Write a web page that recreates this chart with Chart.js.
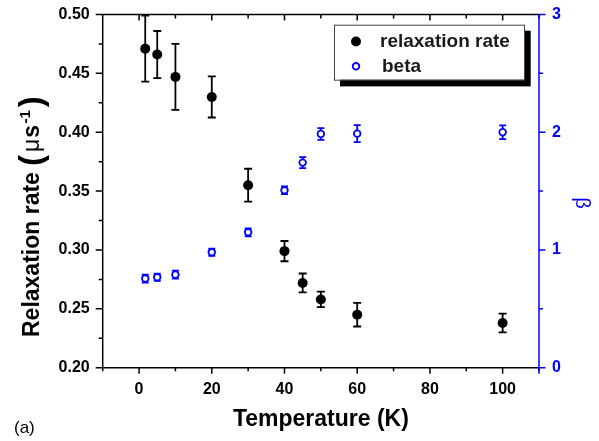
<!DOCTYPE html>
<html><head><meta charset="utf-8">
<script src="https://cdn.jsdelivr.net/npm/chart.js@4.4.1/dist/chart.umd.min.js"></script>
<style>html,body{margin:0;padding:0;background:#fff}#wrap{width:599px;height:441px;position:relative}</style>
</head><body><div id="wrap"><canvas id="c" width="599" height="441"></canvas></div>
<script>
// ---- data ----
const temperatures = [1.7, 5, 10, 20, 30, 40, 45, 50, 60, 100];
const relaxationRate = [0.471, 0.466, 0.447, 0.430, 0.355, 0.299, 0.272, 0.258, 0.245, 0.238];
const relaxationRateErr = [0.028, 0.020, 0.028, 0.0175, 0.014, 0.0086, 0.008, 0.0066, 0.010, 0.008];
const betaValues = [0.757, 0.768, 0.790, 0.980, 1.150, 1.507, 1.742, 1.985, 1.988, 2.000];
const betaErr = [0.034, 0.030, 0.034, 0.031, 0.034, 0.033, 0.047, 0.050, 0.072, 0.058];
const seriesLabels = ['relaxation rate', 'beta'];
const xTickValues = [0, 20, 40, 60, 80, 100];
const xMinorTicks = [-10, 10, 30, 50, 70, 90, 110];
const leftTickValues = [0.20, 0.25, 0.30, 0.35, 0.40, 0.45, 0.50];
const leftMinorTicks = [0.225, 0.275, 0.325, 0.375, 0.425, 0.475];
const rightTickValues = [0, 1, 2, 3];
const rightMinorTicks = [0.5, 1.5, 2.5];
const xTitle = 'Temperature (K)';
const yTitleParts = ['Relaxation rate', '(', 'μ', 's', '-1', ')'];
const y1Title = 'β';
const panelLabel = '(a)';

const BLUE = '#0000ff';
const FAM = "'Liberation Sans', Arial, Helvetica, sans-serif";
Chart.defaults.font.family = FAM;
Chart.defaults.color = '#000';

const errors = [relaxationRateErr, betaErr];

const axesPlugin = {
  id: 'axesPlugin',
  beforeDatasetsDraw(chart) {
    const {ctx, scales} = chart;
    ctx.save();
    chart.data.datasets.forEach((ds, di) => {
      const ys = scales[ds.yAxisID];
      const err = errors[di];
      const cap = di === 0 ? 4 : 3.5;
      ctx.strokeStyle = ds.borderColor;
      ctx.lineWidth = 1.8;
      ds.data.forEach((p, i) => {
        const x = scales.x.getPixelForValue(p.x);
        const y1 = ys.getPixelForValue(p.y + err[i]);
        const y2 = ys.getPixelForValue(p.y - err[i]);
        ctx.beginPath();
        ctx.moveTo(x, y1); ctx.lineTo(x, y2);
        ctx.moveTo(x - cap, y1); ctx.lineTo(x + cap, y1);
        ctx.moveTo(x - cap, y2); ctx.lineTo(x + cap, y2);
        ctx.stroke();
      });
    });
    ctx.restore();
  },
  afterDraw(chart) {
    const {ctx, chartArea: a, scales} = chart;
    ctx.save();
    ctx.lineWidth = 1.5;
    ctx.strokeStyle = '#000';
    ctx.beginPath();
    ctx.moveTo(a.left, a.top); ctx.lineTo(a.left, a.bottom);
    ctx.moveTo(a.left, a.bottom); ctx.lineTo(a.right, a.bottom);
    ctx.moveTo(a.left, a.top); ctx.lineTo(a.right, a.top);
    leftTickValues.forEach(v => { const y = scales.y.getPixelForValue(v); ctx.moveTo(a.left - 7, y); ctx.lineTo(a.left, y); });
    leftMinorTicks.forEach(v => { const y = scales.y.getPixelForValue(v); ctx.moveTo(a.left - 4, y); ctx.lineTo(a.left, y); });
    xTickValues.forEach(v => { const x = scales.x.getPixelForValue(v);
      ctx.moveTo(x, a.bottom); ctx.lineTo(x, a.bottom + 6);
      ctx.moveTo(x, a.top); ctx.lineTo(x, a.top + 6); });
    xMinorTicks.forEach(v => { const x = scales.x.getPixelForValue(v);
      ctx.moveTo(x, a.bottom); ctx.lineTo(x, a.bottom + 3.5);
      ctx.moveTo(x, a.top); ctx.lineTo(x, a.top + 4); });
    ctx.stroke();
    ctx.strokeStyle = BLUE;
    ctx.beginPath();
    ctx.moveTo(a.right, a.top); ctx.lineTo(a.right, a.bottom + 6);
    rightTickValues.forEach(v => { const y = scales.y1.getPixelForValue(v); ctx.moveTo(a.right, y); ctx.lineTo(a.right + 6.5, y); });
    rightMinorTicks.forEach(v => { const y = scales.y1.getPixelForValue(v); ctx.moveTo(a.right, y); ctx.lineTo(a.right + 4, y); });
    ctx.stroke();

    // left axis title (rotated), with superscript
    ctx.save();
    ctx.translate(31, 337);
    ctx.rotate(-Math.PI / 2);
    ctx.fillStyle = '#000';
    ctx.textBaseline = 'alphabetic';
    ctx.textAlign = 'left';
    const base = 8;
    let cx = 0;
    const seg = (txt, font, dy, gapAfter) => { ctx.font = font; ctx.fillText(txt, cx, base + dy); cx += ctx.measureText(txt).width + gapAfter; };
    seg(yTitleParts[0], `bold 23px ${FAM}`, 0, 6);
    seg(yTitleParts[1], `bold 33px ${FAM}`, 3, 3);
    seg(yTitleParts[2], `23px ${FAM}`, 0, 1);
    seg(yTitleParts[3], `bold 23px ${FAM}`, 0, 1.5);
    seg(yTitleParts[4], `bold 15px ${FAM}`, -9.5, 3);
    seg(yTitleParts[5], `bold 33px ${FAM}`, 3, 0);
    ctx.restore();

    // right axis title
    ctx.save();
    ctx.translate(582, 203);
    ctx.rotate(Math.PI / 2);
    ctx.fillStyle = BLUE;
    ctx.font = `20px ${FAM}`;
    ctx.textAlign = 'center';
    ctx.textBaseline = 'middle';
    ctx.fillText(y1Title, 0, 0);
    ctx.restore();

    // legend
    const lx = 334, ly = 24.7, lw = 190, lh = 55;
    ctx.fillStyle = '#000';
    ctx.fillRect(lx + 6, ly + 6, lw + 0.7, lh + 0.7);
    ctx.fillStyle = '#fff';
    ctx.fillRect(lx, ly, lw, lh);
    ctx.strokeStyle = '#444';
    ctx.lineWidth = 1;
    ctx.strokeRect(lx + 0.5, ly + 0.5, lw, lh);
    const ds = chart.data.datasets;
    ctx.fillStyle = '#000';
    ctx.beginPath(); ctx.arc(356, 41.5, 5, 0, Math.PI * 2); ctx.fill();
    ctx.strokeStyle = BLUE; ctx.lineWidth = 1.8; ctx.fillStyle = '#fff';
    ctx.beginPath(); ctx.arc(356, 66.3, 3.3, 0, Math.PI * 2); ctx.fill(); ctx.stroke();
    ctx.fillStyle = '#1a1a1a';
    ctx.font = `bold 19px ${FAM}`;
    ctx.textBaseline = 'middle';
    ctx.textAlign = 'left';
    ctx.fillText(ds[0].label, 380, 42);
    ctx.fillText(ds[1].label, 382, 67);

    ctx.font = `17px ${FAM}`;
    ctx.fillStyle = '#000';
    ctx.fillText(panelLabel, 14, 428);
    ctx.restore();
  }
};

const noPad = s => { s.paddingTop = 0; s.paddingBottom = 0; s.paddingLeft = 0; s.paddingRight = 0; };

new Chart(document.getElementById('c'), {
  type: 'scatter',
  data: {
    datasets: [
      {
        label: seriesLabels[0],
        data: temperatures.map((t, i) => ({x: t, y: relaxationRate[i]})),
        yAxisID: 'y',
        pointRadius: 5, pointHoverRadius: 5,
        backgroundColor: '#000', borderColor: '#000', pointBorderWidth: 0,
        order: 1
      },
      {
        label: seriesLabels[1],
        data: temperatures.map((t, i) => ({x: t, y: betaValues[i]})),
        yAxisID: 'y1',
        pointRadius: 3.3, pointHoverRadius: 3.3,
        backgroundColor: '#fff', borderColor: BLUE, pointBorderWidth: 1.8,
        order: 0
      }
    ]
  },
  options: {
    responsive: false,
    animation: false,
    devicePixelRatio: 1,
    layout: {padding: {top: 14.5, left: 0, right: 0, bottom: 0}},
    plugins: {legend: {display: false}, tooltip: {enabled: false}},
    scales: {
      x: {
        type: 'linear', position: 'bottom', min: -10, max: 110,
        afterBuildTicks: s => { s.ticks = xTickValues.map(v => ({value: v})); },
        afterFit: s => { s.height = 73.3; noPad(s); },
        grid: {display: false, drawTicks: false}, border: {display: false},
        ticks: {font: {size: 16, weight: 'bold'}, color: '#000', padding: 12, maxRotation: 0, autoSkip: false},
        title: {display: true, text: xTitle, font: {size: 23, weight: 'bold'}, color: '#000', padding: {top: 0, bottom: 8}}
      },
      y: {
        type: 'linear', position: 'left', min: 0.2, max: 0.5,
        afterBuildTicks: s => { s.ticks = leftTickValues.map(v => ({value: v})); },
        afterFit: s => { s.width = 102.7; noPad(s); },
        grid: {display: false, drawTicks: false}, border: {display: false},
        ticks: {font: {size: 16, weight: 'bold'}, color: '#000', padding: 13, callback: v => v.toFixed(2)}
      },
      y1: {
        type: 'linear', position: 'right', min: 0, max: 3,
        afterBuildTicks: s => { s.ticks = rightTickValues.map(v => ({value: v})); },
        afterFit: s => { s.width = 60; noPad(s); },
        grid: {display: false, drawTicks: false}, border: {display: false},
        ticks: {font: {size: 16, weight: 'bold'}, color: BLUE, padding: 13, callback: v => String(v)}
      }
    }
  },
  plugins: [axesPlugin]
});
</script>
</body></html>
